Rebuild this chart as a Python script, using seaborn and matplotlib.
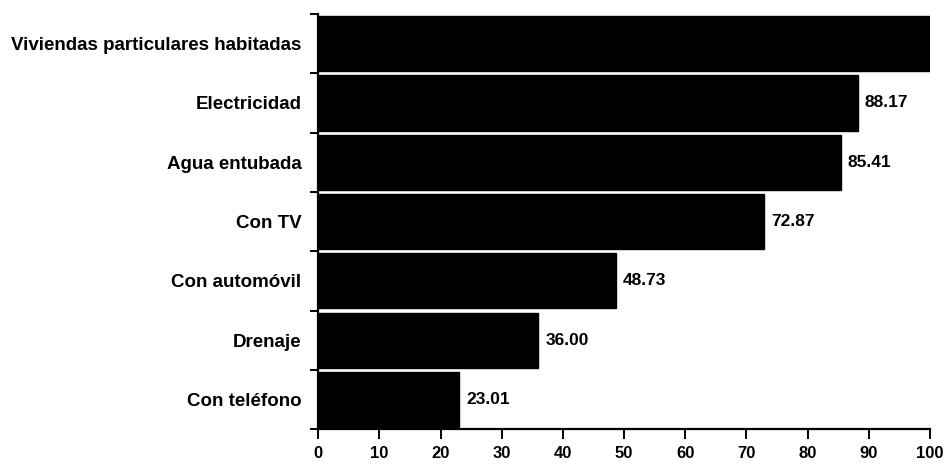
import matplotlib
matplotlib.use("Agg")
import matplotlib.pyplot as plt
import seaborn as sns
import pandas as pd

# Datos del gráfico
categorias = [
    "Viviendas particulares habitadas",
    "Electricidad",
    "Agua entubada",
    "Con TV",
    "Con automóvil",
    "Drenaje",
    "Con teléfono",
]
porcentajes = [100.0, 88.17, 85.41, 72.87, 48.73, 36.00, 23.01]
etiquetas = ["", "88.17", "85.41", "72.87", "48.73", "36.00", "23.01"]
ticks_x = [0, 10, 20, 30, 40, 50, 60, 70, 80, 90, 100]

df = pd.DataFrame({"categoria": categorias, "porcentaje": porcentajes})

sns.set_theme(style="white")
plt.rcParams["font.family"] = ["Liberation Sans", "DejaVu Sans"]

fig = plt.figure(figsize=(9.47, 4.65), dpi=100)
ax = fig.add_axes([0.336, 0.077, 0.646, 0.893])

sns.barplot(data=df, x="porcentaje", y="categoria", color="black",
            width=0.93, ax=ax, saturation=1)
for p in ax.patches:
    p.set_edgecolor("black")

ax.bar_label(ax.containers[0], labels=etiquetas, padding=5,
             fontsize=12.5, fontweight="bold", color="black")

ax.set_xlim(0, 100)
ax.set_ylim(6.5, -0.5)
ax.set_xticks(ticks_x)
ax.set_xlabel("")
ax.set_ylabel("")

# marcas del eje y entre barras
ax.set_yticks(range(len(categorias)))
ax.set_yticklabels(categorias, fontsize=13.5, fontweight="bold", color="black")
ax.set_yticks([i - 0.5 for i in range(len(categorias) + 1)], minor=True)
ax.tick_params(axis="y", which="major", length=0, pad=12)
ax.tick_params(axis="y", which="minor", length=6, width=1.4, color="black", left=True)
ax.tick_params(axis="x", which="major", length=7, width=1.4, color="black",
               bottom=True, pad=5, labelsize=12, labelcolor="black")
for t in ax.get_xticklabels():
    t.set_fontweight("bold")

for s in ["top", "right"]:
    ax.spines[s].set_visible(False)
for s in ["left", "bottom"]:
    ax.spines[s].set_color("black")
    ax.spines[s].set_linewidth(1.6)

fig.savefig("out.png", dpi=100, facecolor="white")
